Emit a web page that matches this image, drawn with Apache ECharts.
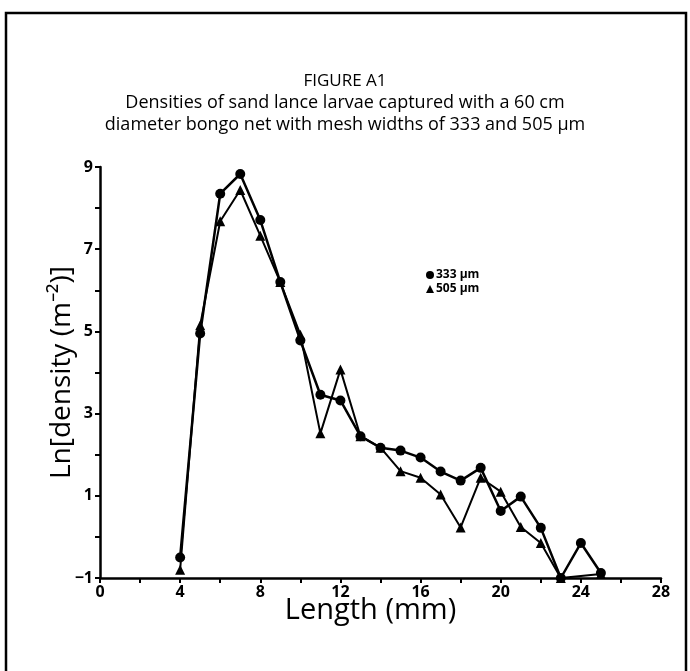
<!DOCTYPE html>
<html>
<head>
<meta charset="utf-8">
<script src="https://cdn.jsdelivr.net/npm/echarts@6/dist/echarts.min.js"></script>
<style>
  html, body { margin: 0; padding: 0; background: #fff; }
  #chart { width: 690px; height: 671px; }
</style>
</head>
<body>
<div id="chart"></div>
<script>
// lengths (mm) and ln density for each mesh width
const lengths333 = [4, 5, 6, 7, 8, 9, 10, 11, 12, 13, 14, 15, 16, 17, 18, 19, 20, 21, 22, 23, 24, 25];
const density333 = [-0.5, 4.95, 8.35, 8.83, 7.71, 6.2, 4.78, 3.46, 3.32, 2.45, 2.17, 2.1, 1.93, 1.59, 1.37, 1.68, 0.63, 0.98, 0.22, -1, -0.15, -0.88];
const lengths505 = [4, 5, 6, 7, 8, 9, 10, 11, 12, 13, 14, 15, 16, 17, 18, 19, 20, 21, 22, 23, 25];
const density505 = [-0.8, 5.15, 7.68, 8.44, 7.33, 6.2, 4.92, 2.52, 4.07, 2.45, 2.17, 1.6, 1.44, 1.03, 0.23, 1.44, 1.1, 0.24, -0.15, -1, -0.9];
const seriesNames = ['333 \u00b5m', '505 \u00b5m'];
const xTickLabels = [0, 4, 8, 12, 16, 20, 24, 28];
const yTickLabels = [-1, 1, 3, 5, 7, 9];
const titleLines = [
  'FIGURE A1',
  'Densities of sand lance larvae captured with a 60 cm',
  'diameter bongo net with mesh widths of 333 and 505 \u00b5m',
];

const pairs = (xs, ys) => xs.map((x, i) => [x, ys[i]]);

const chart = echarts.init(document.getElementById('chart'));

const titleGraphics = titleLines.map((line, i) => ({
  type: 'text',
  x: 345,
  y: 81 + i * 22,
  style: {
    text: line,
    fontFamily: 'Open Sans',
    fontSize: i === 0 ? 17 : 18,
    fill: '#000',
    textAlign: 'center',
    textVerticalAlign: 'middle',
  },
  silent: true,
}));

chart.setOption({
  animation: false,
  backgroundColor: '#fff',
  textStyle: { fontFamily: 'Open Sans', color: '#000' },
  legend: {
    orient: 'vertical',
    left: 421,
    top: 264,
    itemWidth: 8,
    itemHeight: 8,
    itemGap: 2,
    itemStyle: { color: '#000' },
    textStyle: { fontSize: 12, fontWeight: 'bold', color: '#000', padding: [0, 0, 0, -3] },
    data: [
      { name: seriesNames[0], icon: 'circle' },
      { name: seriesNames[1], icon: 'triangle' },
    ],
  },
  grid: {
    left: 100,
    right: 29,
    top: 167,
    bottom: 93,
  },
  xAxis: {
    type: 'value',
    min: 0,
    max: 28,
    interval: 2,
    name: 'Length (mm)',
    nameLocation: 'middle',
    nameGap: 33,
    nameMoveOverlap: false,
    nameTextStyle: {
      fontSize: 29,
      color: '#000',
      fontFamily: 'Open Sans',
      verticalAlign: 'middle',
      padding: [0, 20, 0, 0],
    },
    axisLine: { onZero: false, lineStyle: { color: '#000', width: 2.5 } },
    axisTick: { inside: false, length: 5, lineStyle: { color: '#000', width: 2 } },
    axisLabel: {
      color: '#000',
      fontSize: 16,
      fontWeight: 'bold',
      margin: 6,
      formatter: (v) => (xTickLabels.includes(v) ? String(v) : ''),
    },
    splitLine: { show: false },
  },
  yAxis: {
    type: 'value',
    min: -1,
    max: 9,
    interval: 1,
    name: 'Ln[density (m\u207b\u00b2)]',
    nameLocation: 'middle',
    nameGap: 38,
    nameMoveOverlap: false,
    nameRotate: 90,
    nameTextStyle: { fontSize: 28, color: '#000', fontFamily: 'Open Sans', verticalAlign: 'middle' },
    axisLine: { show: true, onZero: false, lineStyle: { color: '#000', width: 2.5 } },
    axisTick: { show: true, length: 5, lineStyle: { color: '#000', width: 2 } },
    axisLabel: {
      color: '#000',
      fontSize: 16,
      fontWeight: 'bold',
      margin: 7,
      formatter: (v) => (yTickLabels.includes(v) ? (v < 0 ? '\u2212' + Math.abs(v) : String(v)) : ''),
    },
    splitLine: { show: false },
  },
  series: [
    {
      name: seriesNames[0],
      type: 'line',
      data: pairs(lengths333, density333),
      symbol: 'circle',
      symbolSize: 10,
      lineStyle: { color: '#000', width: 2.5 },
      itemStyle: { color: '#000' },
      z: 3,
    },
    {
      name: seriesNames[1],
      type: 'line',
      data: pairs(lengths505, density505),
      symbol: 'triangle',
      symbolSize: 10,
      lineStyle: { color: '#000', width: 2 },
      itemStyle: { color: '#000' },
      z: 2,
    },
  ],
  graphic: [
    {
      type: 'rect',
      shape: { x: 6, y: 13, width: 680, height: 700 },
      style: { fill: null, stroke: '#000', lineWidth: 2.5 },
      silent: true,
    },
  ].concat(titleGraphics),
});
</script>
</body>
</html>
